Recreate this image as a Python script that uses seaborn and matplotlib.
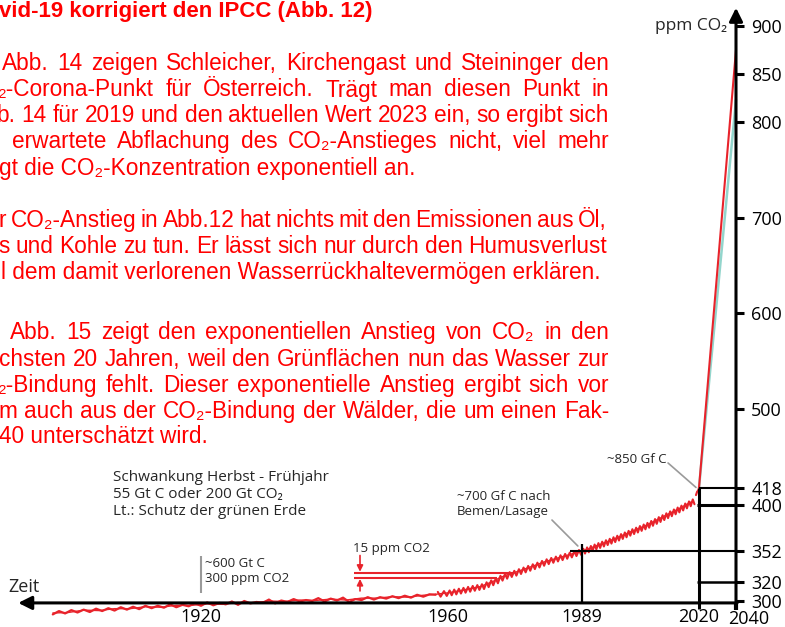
import numpy as np
import pandas as pd
import seaborn as sns
import matplotlib.pyplot as plt
from matplotlib.transforms import ScaledTranslation

W, H = 785, 627
RED = "#e8232b"
TEXT_RED = "#ff0000"
TEAL = "#93d5cc"
GREY = "#9a9a9a"

# ---- values ----
year_ticks = [1920, 1960, 1989, 2020, 2040]
ppm_ticks = [300, 320, 352, 400, 418, 500, 600, 700, 800, 850, 900]

# the time axis of the original is squeezed towards the right
scale_years = [1800, 1920, 1960, 1989, 2020, 2040, 2100]
scale_pos = [-540, 201, 448, 582, 699, 736, 847]

early_years = list(range(1896, 1959))
early_ppm = [286.0, 289.5, 287.0, 290.5, 288.0, 291.0, 288.5, 292.0, 289.5, 292.5,
             290.0, 293.5, 291.0, 294.0, 291.5, 295.0, 292.5, 295.0, 293.0, 296.5,
             293.5, 296.0, 294.5, 297.5, 295.0, 298.5, 295.5, 298.0, 296.5, 299.5,
             296.0, 300.0, 297.5, 299.0, 298.0, 301.5, 297.5, 300.5, 299.0, 302.0,
             299.5, 301.0, 300.0, 303.0, 299.5, 302.5, 300.5, 303.5, 299.0, 302.0,
             301.0, 304.0, 301.5, 304.0, 302.5, 305.0, 303.0, 305.5, 303.5, 306.5,
             304.5, 307.0, 306.5]

smooth_years = [1896, 1898.5, 1901, 1903.5, 1906, 1908.5, 1911, 1913.5, 1916, 1918.5,
                1921, 1923.5, 1926, 1928.5, 1931, 1933.5, 1936, 1938.5, 1941, 1943.5,
                1946, 1948.5, 1951, 1953.5, 1956, 1958]
smooth_ppm = [287.5, 288.0, 290.5, 290.0, 292.0, 292.0, 294.0, 293.5, 295.5, 295.5,
              297.0, 296.5, 298.5, 298.0, 300.0, 299.5, 301.0, 300.5, 302.0, 301.0,
              303.0, 303.0, 304.5, 304.0, 306.0, 307.0]

ml_years = list(range(1958, 2019))
ml_ppm = [307.0, 307.8, 308.5, 309.4, 310.3, 311.2, 312.2, 313.2, 314.1, 315.0,
          317.0, 319.0, 321.0, 323.8, 325.8, 327.6, 329.0, 330.7, 332.4, 334.1,
          335.8, 337.5, 339.3, 341.0, 342.4, 343.8, 345.2, 346.6, 348.0, 349.4,
          350.7, 352.0, 353.4, 354.9, 356.4, 357.9, 359.4, 360.9, 362.4, 364.0,
          365.6, 367.3, 369.0, 370.7, 372.4, 374.0, 375.7, 377.3, 379.0, 381.0,
          383.0, 385.0, 387.0, 389.0, 391.0, 393.0, 395.0, 397.0, 399.2, 401.4,
          403.5]
seasonal_swing = 2.5

recent_years = [2019.2, 2019.5, 2019.8, 2020]
recent_ppm = [410.5, 414.0, 415.5, 418]
proj_years = [2020, 2040]
proj_red = [418, 875]
proj_teal = [418, 823]

bracket_upper = (329.5, 1944.7, 1974.1)
bracket_lower = (324.0, 1944.7, 1970.6)


def fwd(y):
    return np.interp(y, scale_years, scale_pos)


def inv(p):
    return np.interp(p, scale_pos, scale_years)


sns.set_theme(style="white")
plt.rcParams["font.family"] = ["Open Sans", "DejaVu Sans"]

fig = plt.figure(figsize=(W / 100, H / 100), dpi=100)
ax = fig.add_axes([0, 0, 1, 1])
ax.patch.set_alpha(0)
ax.set_xscale("function", functions=(fwd, inv))
k = 600 / 575
ax.set_xlim(inv(0), inv(W))
ax.set_ylim(300 - (H - 601) * k, 300 + 601 * k)

# ---- curves ----
early = pd.DataFrame({"year": early_years, "ppm": early_ppm})
smooth = pd.DataFrame({"year": smooth_years, "ppm": smooth_ppm})
sns.lineplot(data=smooth, x="year", y="ppm", ax=ax, color=RED, lw=1.0,
             estimator=None, sort=False)
sns.lineplot(data=early, x="year", y="ppm", ax=ax, color=RED, lw=1.6,
             estimator=None, sort=False)

saw_x, saw_y = [], []
for yr, v in zip(ml_years, ml_ppm):
    saw_x += [yr + 0.35, yr + 0.8]
    saw_y += [v + seasonal_swing, v - seasonal_swing]
saw = pd.DataFrame({"year": saw_x, "ppm": saw_y})
ml = pd.DataFrame({"year": ml_years, "ppm": ml_ppm})
sns.lineplot(data=ml, x="year", y="ppm", ax=ax, color=RED, lw=1.0,
             estimator=None, sort=False)
sns.lineplot(data=saw, x="year", y="ppm", ax=ax, color=RED, lw=1.5,
             estimator=None, sort=False)

sns.lineplot(x=recent_years, y=recent_ppm, ax=ax, color=RED, lw=1.5,
             estimator=None, sort=False)
sns.lineplot(x=proj_years, y=proj_teal, ax=ax, color=TEAL, lw=1.8,
             estimator=None, sort=False)
sns.lineplot(x=proj_years, y=proj_red, ax=ax, color=RED, lw=1.5,
             estimator=None, sort=False)

# ---- reference lines ----
ax.hlines(418, 2020, 2040, colors="black", lw=1.5)
ax.hlines(400, 2019.4, 2040, colors="black", lw=2.2)
ax.hlines(352, 1986.3, 2040, colors="black", lw=1.5)
ax.hlines(320, 2019.4, 2040, colors="black", lw=1.8)
ax.vlines(1989, 298, 359.5, colors="black", lw=1.6)
ax.vlines(2020, 292, 418, colors="black", lw=2.2)
ax.vlines(2040, 291, 298, colors="black", lw=3)

# axes with arrow heads
ax.annotate("", xy=(1890.4, 298), xytext=(2040.6, 298),
            arrowprops=dict(arrowstyle="-|>", color="black", lw=2.2,
                            mutation_scale=20, shrinkA=0, shrinkB=0))
ax.annotate("", xy=(2040, 919), xytext=(2040, 297),
            arrowprops=dict(arrowstyle="-|>", color="black", lw=2.2,
                            mutation_scale=20, shrinkA=0, shrinkB=0))

for s in ax.spines.values():
    s.set_visible(False)
ax.spines["right"].set_position(("data", 2040))
ax.spines["bottom"].set_position(("data", 298))
ax.yaxis.tick_right()
ax.set_yticks(ppm_ticks)
ax.set_yticklabels([str(v) for v in ppm_ticks])
ax.set_xticks(year_ticks)
ax.set_xticklabels([str(v) for v in year_ticks])
ax.minorticks_off()
ax.tick_params(axis="y", right=True, left=False, labelright=True, labelleft=False,
               direction="out", length=6, width=2.2, pad=5, labelsize=13,
               colors="black")
ax.tick_params(axis="x", bottom=True, length=0, pad=4, labelsize=13,
               colors="black")
ax.set_xlabel("")
ax.set_ylabel("")
lab = ax.get_xticklabels()[-1]
lab.set_transform(lab.get_transform() + ScaledTranslation(0.13, -0.02, fig.dpi_scale_trans))

ax.text(1888.8, 309.4, "Zeit", fontsize=13, va="baseline", ha="left")
ax.text(2035.1, 896, "ppm CO₂", fontsize=12.5, va="baseline", ha="right")

# ---- annotations inside the chart ----
ax.text(1905.8, 425.2, "Schwankung Herbst - Frühjahr", fontsize=11, va="baseline")
ax.text(1905.8, 407.5, "55 Gt C oder 200 Gt CO₂", fontsize=11, va="baseline")
ax.text(1905.8, 389.7, "Lt.: Schutz der grünen Erde", fontsize=11, va="baseline")

ax.vlines(1919.95, 308.3, 347, colors=GREY, lw=1.5)
ax.text(1920.7, 335.5, "~600 Gt C", fontsize=9.5, va="baseline")
ax.text(1920.7, 319.8, "300 ppm CO2", fontsize=9.5, va="baseline")

ax.text(1944.6, 351.1, "15 ppm CO2", fontsize=9.5, va="baseline")
for val, x0, x1 in (bracket_upper, bracket_lower):
    ax.hlines(val, x0, x1, colors=RED, lw=1.5)
ax.annotate("", xy=(1945.75, bracket_upper[0] + 1), xytext=(1945.75, 347.5),
            arrowprops=dict(arrowstyle="-|>", color=RED, lw=1.2,
                            mutation_scale=9, shrinkA=0, shrinkB=0))
ax.annotate("", xy=(1945.75, bracket_lower[0] - 1), xytext=(1945.75, 310.5),
            arrowprops=dict(arrowstyle="-|>", color=RED, lw=1.2,
                            mutation_scale=9, shrinkA=0, shrinkB=0))

ax.text(1961.9, 405.4, "~700 Gf C nach", fontsize=9.5, va="baseline")
ax.text(1961.9, 389.7, "Bemen/Lasage", fontsize=9.5, va="baseline")
ax.plot([1982.5, 1988.1], [384.5, 357.4], color=GREY, lw=1.2)

ax.text(1995.6, 444, "~850 Gf C", fontsize=9.5, va="baseline")
ax.plot([2011.8, 2019.2], [444, 418.5], color=GREY, lw=1.2)

# ---- red document text around the chart ----
renderer = fig.canvas.get_renderer()
body = dict(color=TEXT_RED, fontsize=16.3, va="baseline",
            family=["Liberation Sans", "DejaVu Sans"])


def put_line(text, x0, y, x1=None, **kw):
    if x1 is None:
        fig.text(x0 / W, 1 - y / H, text, **kw)
        return
    words = text.split(" ")
    arts = [fig.text(0, 1 - y / H, w, **kw) for w in words]
    widths = [a.get_window_extent(renderer).width for a in arts]
    gap = (x1 - x0 - sum(widths)) / (len(words) - 1)
    x = x0
    for a, w in zip(arts, widths):
        a.set_x(x / W)
        x += w + gap


put_line("vid-19 korrigiert den IPCC (Abb. 12)", -1, 17, color=TEXT_RED,
         fontsize=16, fontweight="bold", va="baseline",
         family=["Liberation Sans", "DejaVu Sans"])

para1 = [("Abb. 14 zeigen Schleicher, Kirchengast und Steininger den", 2, 70, 609),
         ("₂-Corona-Punkt für Österreich. Trägt man diesen Punkt in", -2, 96.5, 609),
         ("b. 14 für 2019 und den aktuellen Wert 2023 ein, so ergibt sich", -3, 122, 609),
         ("erwartete Abflachung des CO₂-Anstieges nicht, viel mehr", 12, 148, 609),
         ("gt die CO₂-Konzentration exponentiell an.", -1, 175, None)]
para2 = [("r CO₂-Anstieg in Abb.12 hat nichts mit den Emissionen aus Öl,", -1, 227, 607),
         ("s und Kohle zu tun. Er lässt sich nur durch den Humusverlust", -2, 253, 607),
         ("l dem damit verlorenen Wasserrückhaltevermögen erklären.", 1, 279, None)]
para3 = [("Abb. 15 zeigt den exponentiellen Anstieg von CO₂ in den", 10, 339, 609),
         ("chsten 20 Jahren, weil den Grünflächen nun das Wasser zur", -1, 366, 609),
         ("₂-Bindung fehlt. Dieser exponentielle Anstieg ergibt sich vor", -2, 392, 609),
         ("m auch aus der CO₂-Bindung der Wälder, die um einen Fak-", -2, 418, 609),
         ("40 unterschätzt wird.", -1, 443, None)]
for text, x0, y, x1 in para1 + para2 + para3:
    put_line(text, x0, y, x1, **body)

fig.savefig("out.png", dpi=100)
